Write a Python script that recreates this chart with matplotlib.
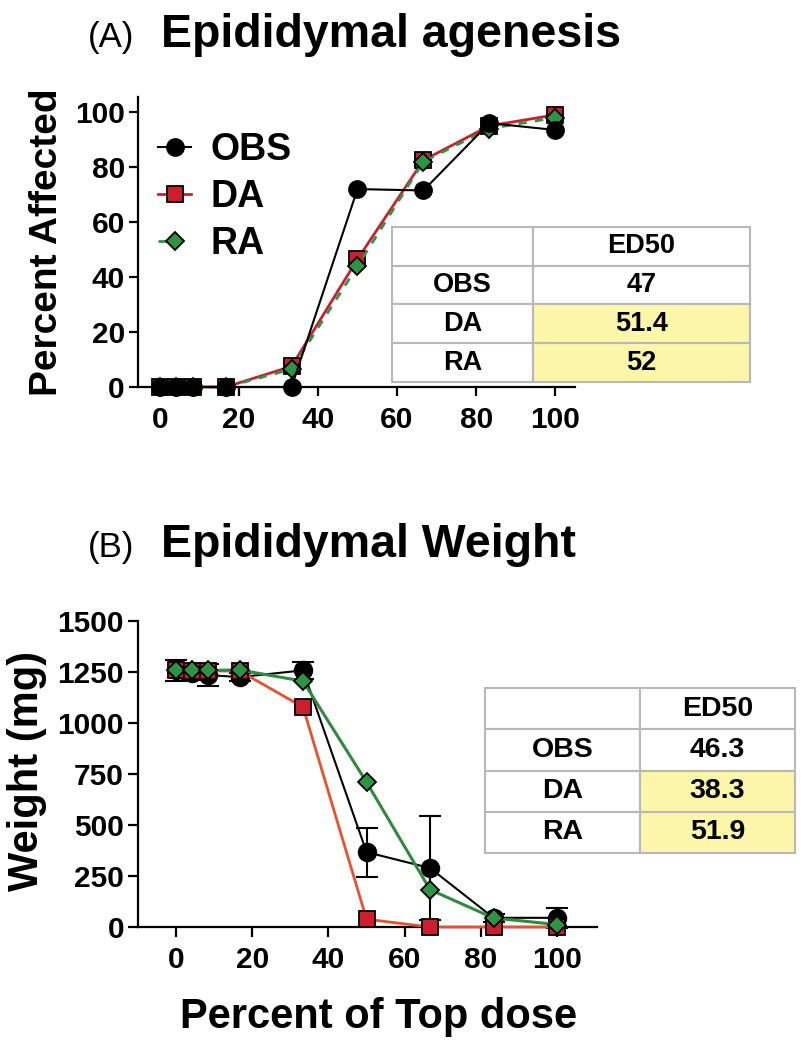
import numpy as np
import matplotlib.pyplot as plt

plt.rcParams['font.family'] = ['Liberation Sans', 'DejaVu Sans']

# dose levels as percent of the top dose
dose = [0, 4.17, 8.33, 16.67, 33.33, 50, 66.67, 83.33, 100]

# (A) epididymal agenesis, percent affected
obs_pct = [0, 0, 0, 0, 0, 72, 71.5, 96, 93.5]
da_pct = [0, 0, 0, 0, 7.5, 46.5, 82.5, 95, 99]
ra_pct = [0, 0, 0, 0, 6.5, 44, 82, 94, 98]

# (B) epididymal weight (mg)
obs_wt = [1258, 1245, 1235, 1225, 1258, 367, 289, 45, 45]
obs_err = [52, 35, 55, 20, 40, 120, 255, 20, 48]
da_wt = [1260, 1255, 1255, 1255, 1078, 38, 0, 0, 0]
ra_wt = [1260, 1258, 1258, 1260, 1205, 710, 183, 44, 12]

series = ['OBS', 'DA', 'RA']
ed50_a = ['47', '51.4', '52']
ed50_b = ['46.3', '38.3', '51.9']

c_red = '#cc1f2d'
c_red_line = '#e8512b'
c_green = '#2e9343'
c_yellow = '#fbf6a9'
c_grid = '#b8b8b8'

W, H = 803, 1050
fig = plt.figure(figsize=(W / 100, H / 100), dpi=100)


def px_axes(l, t, r, b):
    return fig.add_axes([l / W, 1 - b / H, (r - l) / W, (b - t) / H])


def style_axes(ax, ticklen):
    for s in ['top', 'right']:
        ax.spines[s].set_visible(False)
    for s in ['left', 'bottom']:
        ax.spines[s].set_linewidth(1.6)
    ax.tick_params(direction='out', length=ticklen, width=1.6, labelsize=21.5)
    ax.tick_params(axis='x', pad=7)
    ax.tick_params(axis='y', pad=3)
    for lab in ax.get_xticklabels() + ax.get_yticklabels():
        lab.set_fontweight('bold')


# ---------------- Panel A ----------------
axA = px_axes(138, 97, 575, 387)
l_da, = axA.plot(dose, da_pct, color=c_red, lw=2, marker='s', ms=12,
                 mfc=c_red, mec='black', mew=1.3, clip_on=False, label='DA', zorder=3)
l_ra, = axA.plot(dose, ra_pct, color=c_green, lw=2, ls=(0, (3, 3)), marker='D', ms=8.8,
                 mfc=c_green, mec='black', mew=1.3, clip_on=False, label='RA', zorder=4)
l_obs, = axA.plot(dose, obs_pct, color='black', lw=1.5, marker='o', ms=12.5,
                  mfc='black', mec='black', clip_on=False, label='OBS', zorder=5)
axA.set_xlim(-5.5, 105)
axA.set_ylim(0, 105.5)
axA.set_xticks([0, 20, 40, 60, 80, 100])
axA.set_yticks([0, 20, 40, 60, 80, 100])
style_axes(axA, 6.5)
axA.legend(handles=[l_obs, l_da, l_ra], loc='upper left', bbox_to_anchor=(0.045, 0.88),
           frameon=False, prop={'weight': 'bold', 'size': 27}, handlelength=0.9,
           handletextpad=0.5, labelspacing=0.3, borderaxespad=0, borderpad=0)

# ---------------- Panel B ----------------
axB = px_axes(138, 621, 597, 927)
axB.errorbar(dose, obs_wt, yerr=obs_err, color='black', lw=1.5, marker='o', ms=13,
             mfc='black', mec='black', capsize=8, capthick=1.5, elinewidth=1.5,
             clip_on=False, zorder=3)
axB.plot(dose, da_wt, color=c_red_line, lw=2, marker='s', ms=12, mfc=c_red,
         mec='black', mew=1.3, clip_on=False, zorder=4)
axB.plot(dose, ra_wt, color='#2f8a3e', lw=2.2, marker='D', ms=8.8, mfc=c_green,
         mec='black', mew=1.3, clip_on=False, zorder=5)
axB.set_xlim(-10, 110.5)
axB.set_ylim(0, 1500)
axB.set_xticks([0, 20, 40, 60, 80, 100])
axB.set_yticks([0, 250, 500, 750, 1000, 1250, 1500])
style_axes(axB, 7)


# ---------------- ED50 tables ----------------
def ed50_table(l, t, r, b, values, col0, fs):
    tax = px_axes(l, t, r, b)
    tax.axis('off')
    cells = [['', 'ED50']] + [[s, v] for s, v in zip(series, values)]
    tb = tax.table(cellText=cells, cellLoc='center', colWidths=[col0, 1 - col0],
                   bbox=[0, 0, 1, 1])
    tb.auto_set_font_size(False)
    tb.set_fontsize(fs)
    for (r_, c_), cell in tb.get_celld().items():
        cell.set_edgecolor(c_grid)
        cell.set_linewidth(1.5)
        cell.get_text().set_fontweight('bold')
        if c_ == 1 and r_ >= 2:
            cell.set_facecolor(c_yellow)
    return tax


ed50_table(392, 227, 750, 382, ed50_a, 0.394, 19.5)
ed50_table(485, 688, 795, 853, ed50_b, 0.5, 20.5)

# ---------------- titles and labels ----------------
fig.text(88 / W, 1 - 47 / H, '(A)', fontsize=25, va='baseline', ha='left')
fig.text(161 / W, 1 - 47 / H, 'Epididymal agenesis', fontsize=33.5, fontweight='bold',
         va='baseline', ha='left')
fig.text(88 / W, 1 - 557 / H, '(B)', fontsize=25, va='baseline', ha='left')
fig.text(161 / W, 1 - 557 / H, 'Epididymal Weight', fontsize=33.5, fontweight='bold',
         va='baseline', ha='left')

fig.text(47 / W, 1 - 242 / H, 'Percent Affected', fontsize=28, fontweight='bold',
         rotation=90, ha='center', va='center')
fig.text(27 / W, 1 - 771 / H, 'Weight (mg)', fontsize=30, fontweight='bold',
         rotation=90, ha='center', va='center')
fig.text(379 / W, 1 - 1028 / H, 'Percent of Top dose', fontsize=30, fontweight='bold',
         ha='center', va='baseline')

fig.savefig('out.png', dpi=100)
